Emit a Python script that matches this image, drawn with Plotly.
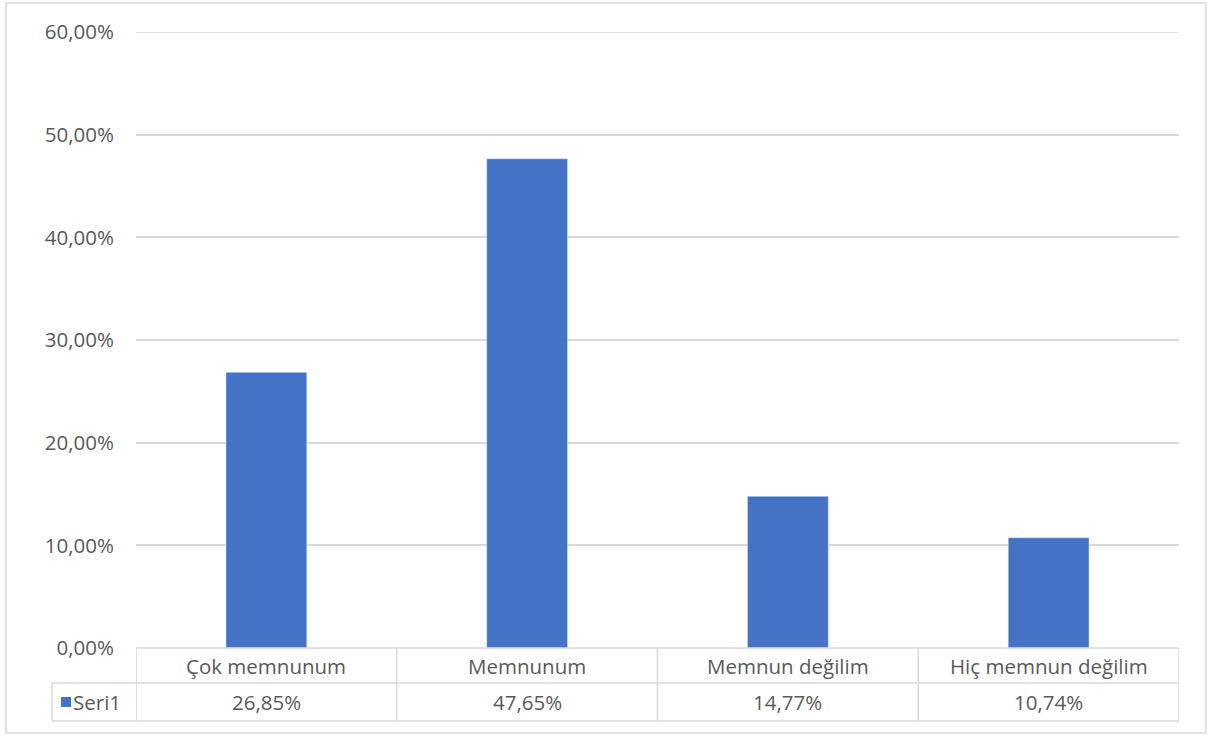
import plotly.graph_objects as go

categories = ["Çok memnunum", "Memnunum", "Memnun değilim", "Hiç memnun değilim"]
values = [26.85, 47.65, 14.77, 10.74]
value_labels = ["26,85%", "47,65%", "14,77%", "10,74%"]
series_name = "Seri1"
tick_vals = [0, 10, 20, 30, 40, 50, 60]
tick_text = ["0,00%", "10,00%", "20,00%", "30,00%", "40,00%", "50,00%", "60,00%"]

W, H = 1208, 735
L, R, T, B = 136, 29, 32, 87
pw, ph = W - L - R, H - T - B

def px_x(x):
    return (x - L) / pw

def px_y(y):
    return (H - B - y) / ph

FONT = "'Open Sans', sans-serif"
FS = 20.5
TXT = "#595959"
LINE = "#d9d9d9"
BLUE = "#4472C4"

fig = go.Figure()
fig.add_trace(go.Bar(x=list(range(len(categories))), y=values, marker_color=BLUE,
                     name=series_name, showlegend=False, hoverinfo="skip"))

shapes = []
annotations = []
n = len(categories)
row1 = px_y(683)
row2 = px_y(721)
leg_left = px_x(52)

# top gridline (at the range edge)
shapes.append(dict(type="line", xref="x", yref="y", x0=-0.5, x1=n - 0.5, y0=tick_vals[-1], y1=tick_vals[-1],
                   line=dict(color=LINE, width=1.5), layer="below"))
shapes.append(dict(type="line", xref="x", yref="paper", x0=-0.5, x1=n - 0.5, y0=0, y1=0,
                   line=dict(color=LINE, width=1.5)))
for yy in [row1, row2]:
    shapes.append(dict(type="line", xref="paper", yref="paper", x0=leg_left, x1=1, y0=yy, y1=yy,
                       line=dict(color=LINE, width=1.5)))
for i in range(n + 1):
    shapes.append(dict(type="line", xref="x", yref="paper", x0=i - 0.5, x1=i - 0.5, y0=0, y1=row2,
                       line=dict(color=LINE, width=1.5)))
shapes.append(dict(type="line", xref="paper", yref="paper", x0=leg_left, x1=leg_left, y0=row1, y1=row2,
                   line=dict(color=LINE, width=1.5)))
# legend key
shapes.append(dict(type="rect", xref="paper", yref="paper", x0=px_x(61), x1=px_x(71),
                   y0=px_y(707), y1=px_y(697), fillcolor=BLUE, line=dict(width=0)))
annotations.append(dict(xref="paper", yref="paper", x=px_x(71), y=(row1 + row2) / 2, text=series_name,
                        showarrow=False, xanchor="left", yanchor="middle",
                        font=dict(family=FONT, size=FS, color=TXT)))
for i, (c, v) in enumerate(zip(categories, value_labels)):
    annotations.append(dict(xref="x", yref="paper", x=i, y=row1 / 2, text=c, showarrow=False,
                            xanchor="center", yanchor="middle", font=dict(family=FONT, size=FS, color=TXT)))
    annotations.append(dict(xref="x", yref="paper", x=i, y=(row1 + row2) / 2, text=v, showarrow=False,
                            xanchor="center", yanchor="middle", font=dict(family=FONT, size=FS, color=TXT)))
shapes.append(dict(type="rect", xref="paper", yref="paper", x0=px_x(6), x1=px_x(1206),
                   y0=px_y(733), y1=px_y(3), line=dict(color=LINE, width=1.5)))

fig.update_layout(
    width=W, height=H,
    margin=dict(l=L, r=R, t=T, b=B),
    paper_bgcolor="white", plot_bgcolor="white",
    bargap=0.69,
    shapes=shapes, annotations=annotations,
    font=dict(family=FONT, color=TXT, size=FS),
    xaxis=dict(range=[-0.5, n - 0.5], showticklabels=False, showgrid=False, zeroline=False,
               showline=False, ticks="", fixedrange=True),
    yaxis=dict(range=[0, 60], tickvals=tick_vals, ticktext=tick_text, showgrid=True,
               gridcolor=LINE, gridwidth=1.5, zeroline=False, showline=False, ticks="",
               ticklabelstandoff=21, tickfont=dict(family=FONT, size=FS, color=TXT), fixedrange=True),
)
fig.write_html("out.html", config={"displayModeBar": False},
               post_script="document.body.style.margin='0';")
